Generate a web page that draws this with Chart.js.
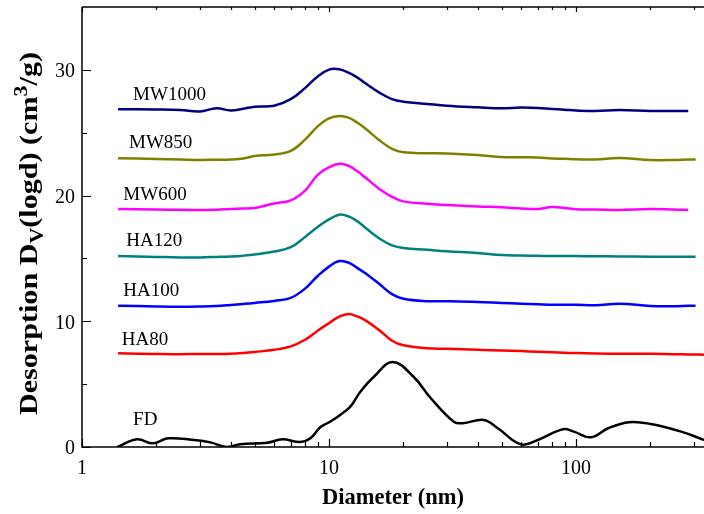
<!DOCTYPE html>
<html>
<head>
<meta charset="utf-8">
<script src="https://cdn.jsdelivr.net/npm/chart.js@4.4.0/dist/chart.umd.min.js"></script>
<style>
  body { margin: 0; background: #fff; }
  canvas { display: block; }
</style>
</head>
<body>
<canvas id="psd" width="704" height="514"></canvas>
<script>
// diameters (nm) shared by the six shifted curves
var dia = [1.4, 2, 2.5, 3, 3.5, 4, 4.5, 5, 6, 7, 8, 9, 10, 11, 12, 13, 14, 16, 18, 20,
           25, 30, 40, 50, 60, 70, 80, 90, 100, 120, 150, 200, 250, 285, 300, 305, 330];

var mw1000 = [26.87, 26.85, 26.81, 26.69, 26.94, 26.77, 26.9, 27.07, 27.15, 27.67, 28.55, 29.47, 30.02, 30.05, 29.78, 29.4, 28.95, 28.19, 27.67, 27.47,
              27.29, 27.15, 27.02, 26.94, 27.0, 26.97, 26.89, 26.83, 26.77, 26.73, 26.81, 26.73, 26.73, 26.73, null, null, null];
var mw850  = [22.97, 22.91, 22.87, 22.83, 22.85, 22.87, 22.95, 23.15, 23.27, 23.55, 24.45, 25.5, 26.14, 26.33, 26.2, 25.81, 25.36, 24.4, 23.72, 23.44,
              23.37, 23.35, 23.23, 23.07, 23.05, 23.03, 22.95, 22.93, 22.89, 22.87, 22.99, 22.83, 22.83, 22.87, 22.87, 22.91, null];
var mw600  = [18.93, 18.89, 18.87, 18.85, 18.87, 18.93, 18.97, 19.01, 19.37, 19.62, 20.4, 21.65, 22.25, 22.53, 22.37, 21.95, 21.45, 20.53, 19.9, 19.54,
              19.34, 19.25, 19.13, 19.07, 18.97, 18.93, 19.09, 19.01, 18.91, 18.89, 18.85, 18.93, 18.89, 18.85, null, null, null];
var ha120  = [15.19, 15.12, 15.08, 15.08, 15.12, 15.16, 15.22, 15.31, 15.55, 15.89, 16.71, 17.5, 18.1, 18.48, 18.34, 17.97, 17.46, 16.59, 16.04, 15.83,
              15.69, 15.57, 15.43, 15.27, 15.23, 15.21, 15.19, 15.19, 15.19, 15.17, 15.16, 15.14, 15.14, 15.14, 15.14, 15.14, null];
var ha100  = [11.24, 11.18, 11.16, 11.18, 11.22, 11.3, 11.38, 11.46, 11.62, 11.86, 12.6, 13.6, 14.35, 14.79, 14.67, 14.25, 13.84, 12.96, 12.16, 11.8,
              11.6, 11.59, 11.54, 11.46, 11.4, 11.36, 11.32, 11.32, 11.32, 11.28, 11.4, 11.22, 11.2, 11.24, 11.24, 11.24, null];
var ha80   = [7.45, 7.4, 7.38, 7.4, 7.4, 7.42, 7.48, 7.56, 7.73, 8.0, 8.53, 9.25, 9.85, 10.37, 10.58, 10.39, 10.09, 9.29, 8.45, 8.09,
              7.85, 7.81, 7.73, 7.68, 7.63, 7.57, 7.53, 7.5, 7.47, 7.44, 7.42, 7.42, 7.38, 7.36, 7.36, 7.36, 7.34];

// FD has its own sampling
var fdDia = [1.39, 1.67, 1.94, 2.23, 2.82, 3.31, 3.84, 4.38, 5.63, 6.48, 7.66, 8.41, 9.24, 10.1, 11.1, 12.2, 13.4, 15.2,
             18.1, 22.0, 25.8, 32.0, 34.8, 42.4, 48.3, 59.8, 70.1, 88.6, 98.1, 115, 135, 164, 201, 267, 330];
var fd    = [0, 0.61, 0.29, 0.69, 0.56, 0.37, 0.0, 0.21, 0.34, 0.61, 0.4, 0.69, 1.59, 2.01, 2.55, 3.21, 4.4, 5.59,
             6.76, 5.59, 3.9, 2.01, 1.89, 2.15, 1.49, 0.21, 0.56, 1.41, 1.22, 0.77, 1.49, 1.97, 1.83, 1.22, 0.56];

var names  = ['MW1000', 'MW850', 'MW600', 'HA120', 'HA100', 'HA80', 'FD'];
var colors = ['#000080', '#808000', '#ff00ff', '#008080', '#0000ff', '#ff0000', '#000000'];
// where each name sits (diameter of its left edge, value of its middle)
var nameX = [1.61, 1.55, 1.47, 1.51, 1.47, 1.45, 1.61];
var nameY = [28.0, 24.17, 20.02, 16.36, 12.37, 8.54, 2.16];

var xTicks = [1, 2, 3, 4, 5, 6, 7, 8, 9, 10, 20, 30, 40, 50, 60, 70, 80, 90, 100, 200, 300];
var xLabels = [1, 10, 100];
var yTicks = [0, 5, 10, 15, 20, 25, 30];
var yLabels = [0, 10, 20, 30];

var serif = '"Liberation Serif", "Times New Roman", serif';

function pts(xs, ys) {
    return xs.map(function (d, i) { return { x: d, y: ys[i] }; })
             .filter(function (p) { return p.y !== null; });
}

var series = [mw1000, mw850, mw600, ha120, ha100, ha80];
var datasets = series.map(function (s, i) {
    return { label: names[i], data: pts(dia, s), borderColor: colors[i] };
});
datasets.push({ label: names[6], data: pts(fdDia, fd), borderColor: colors[6] });

var frame = {
    id: 'frame',
    afterDraw: function (chart) {
        var ctx = chart.ctx, a = chart.chartArea;
        var x = chart.scales.x, y = chart.scales.y;
        ctx.save();
        ctx.strokeStyle = '#000';
        ctx.lineWidth = 1.5;
        ctx.beginPath();
        ctx.moveTo(a.left, a.top); ctx.lineTo(a.right + 2, a.top);
        ctx.moveTo(a.left, a.top); ctx.lineTo(a.left, a.bottom);
        ctx.lineTo(a.right + 2, a.bottom);
        ctx.stroke();

        ctx.lineWidth = 1.2;
        ctx.beginPath();
        xTicks.forEach(function (v) {
            var px = Math.round(x.getPixelForValue(v)) + 0.5;
            var big = xLabels.indexOf(v) >= 0;
            ctx.moveTo(px, a.bottom); ctx.lineTo(px, a.bottom - (big ? 8 : 5));
            ctx.moveTo(px, a.top); ctx.lineTo(px, a.top + (big ? 5 : 3));
        });
        yTicks.forEach(function (v) {
            var py = Math.round(y.getPixelForValue(v)) + 0.5;
            var big = yLabels.indexOf(v) >= 0;
            ctx.moveTo(a.left, py); ctx.lineTo(a.left + (big ? 9 : 5), py);
        });
        ctx.stroke();

        // curve names
        ctx.fillStyle = '#000';
        ctx.font = '19px ' + serif;
        ctx.textAlign = 'left';
        ctx.textBaseline = 'middle';
        names.forEach(function (n, i) {
            ctx.fillText(n, x.getPixelForValue(nameX[i]), y.getPixelForValue(nameY[i]));
        });

        // y title with subscript and superscript, stretched to the reference length
        var size = 26, span = 363;
        var parts = [['Desorption D', 0], ['V', 1], ['(logd) (cm', 0], ['3', 2], ['/g)', 0]];
        function font(k) { return 'bold ' + (k ? Math.round(size * 0.72) : size) + 'px ' + serif; }
        var total = 0;
        parts.forEach(function (p) { ctx.font = font(p[1]); total += ctx.measureText(p[0]).width; });
        ctx.translate(37, 233.5);
        ctx.rotate(-Math.PI / 2);
        ctx.scale(span / total, 1);
        ctx.textBaseline = 'alphabetic';
        var cx = -total / 2;
        parts.forEach(function (p) {
            ctx.font = font(p[1]);
            var dy = p[1] === 1 ? size * 0.22 : (p[1] === 2 ? -size * 0.4 : 0);
            ctx.fillText(p[0], cx, dy);
            cx += ctx.measureText(p[0]).width;
        });
        ctx.restore();
    }
};

new Chart(document.getElementById('psd').getContext('2d'), {
    type: 'line',
    data: { datasets: datasets },
    options: {
        responsive: false,
        animation: false,
        layout: { padding: { top: 7, right: 0, left: 0, bottom: 0 } },
        elements: {
            line: { borderWidth: 2.5, tension: 0.4, fill: false },
            point: { radius: 0 }
        },
        plugins: { legend: { display: false }, tooltip: { enabled: false } },
        scales: {
            x: {
                type: 'logarithmic',
                min: 1,
                max: 330,
                grid: { display: false, drawTicks: false },
                border: { display: false },
                afterBuildTicks: function (s) { s.ticks = xTicks.map(function (v) { return { value: v }; }); },
                afterFit: function (s) { s.height = 67; s.paddingLeft = 0; s.paddingRight = 0; },
                ticks: {
                    autoSkip: false,
                    maxRotation: 0,
                    padding: 10,
                    color: '#000',
                    font: { family: serif, size: 20 },
                    callback: function (v) { return xLabels.indexOf(v) >= 0 ? String(v) : ''; }
                },
                title: {
                    display: true,
                    text: 'Diameter (nm)',
                    color: '#000',
                    font: { family: serif, size: 22.5, weight: 'bold' },
                    padding: { top: 0, bottom: 2 }
                }
            },
            y: {
                min: 0,
                max: 35,
                grid: { display: false, drawTicks: false },
                border: { display: false },
                afterBuildTicks: function (s) { s.ticks = yLabels.map(function (v) { return { value: v }; }); },
                afterFit: function (s) { s.width = 82; s.paddingTop = 0; s.paddingBottom = 0; },
                ticks: {
                    padding: 7,
                    labelOffset: 2,
                    color: '#000',
                    font: { family: serif, size: 20 }
                }
            }
        }
    },
    plugins: [frame]
});
</script>
</body>
</html>
